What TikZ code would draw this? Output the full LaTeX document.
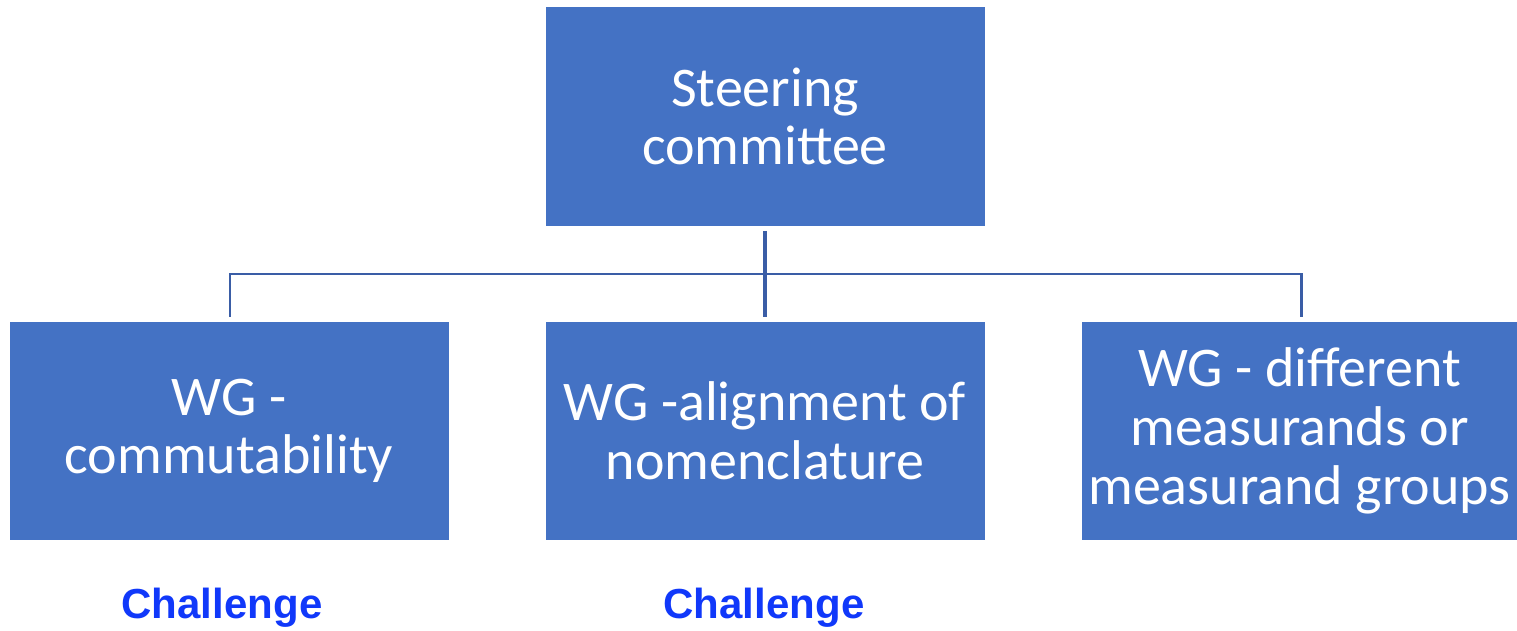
\documentclass[tikz,border=0pt]{standalone}
\usepackage{fontspec}
\setmainfont{Carlito}
\newfontfamily\labelfont{Liberation Sans}
\usetikzlibrary{calc}
\definecolor{boxblue}{HTML}{4472C4}
\definecolor{linkblue}{HTML}{3A5DA6}
\definecolor{noteblue}{RGB}{16,56,250}
\tikzset{
  orgbox/.style={fill=boxblue, draw=none, minimum width=439*0.75pt, minimum height=218*0.75pt,
    text=white, align=center, inner sep=0pt,
    font=\fontsize{42}{44}\selectfont},
  link/.style={draw=linkblue, line width=1.6pt},
  trunk/.style={draw=linkblue, line width=2.6pt},
  note/.style={text=noteblue, font=\labelfont\bfseries\fontsize{31.5}{34}\selectfont, inner sep=0pt}
}
\begin{document}
\begin{tikzpicture}[x=0.75pt, y=-0.75pt]
  \useasboundingbox (0,0) rectangle (1517,631);
  % committee and working groups
  \node[orgbox] (steer) at (765,116.5) {Steering\\committee};
  \node[orgbox] (wgc) at (229,431) {WG -\\commutability};
  \node[orgbox] (wga) at (765,431) {WG -alignment of\\nomenclature};
  \node[orgbox, minimum width=435*0.75pt] (wgd) at (1299.5,431) {WG - different\\measurands or\\measurand groups};
  % bus line joining the groups
  \coordinate (bus) at (765,274);
  \draw[trunk] ([yshift=-3.75pt]steer.south) -- ([yshift=3.75pt]wga.north);
  \draw[link] ([xshift=0.75pt, yshift=3.75pt]wgc.north) |- (bus) -| ([xshift=1.5pt, yshift=3.75pt]wgd.north);
  % notes beneath
  \node[note] (ch1) at (222,608) {Challenge};
  \node[note] (ch2) at (764,608) {Challenge};
\end{tikzpicture}
\end{document}
